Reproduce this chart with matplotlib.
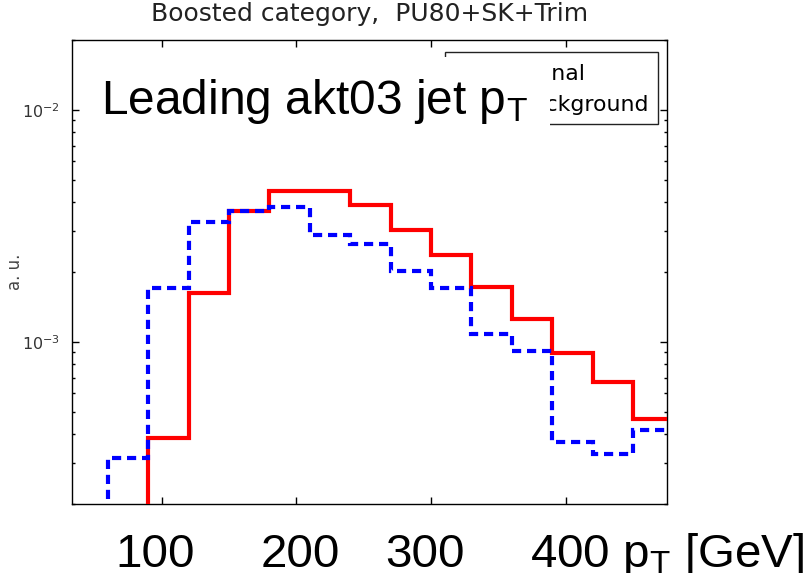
import matplotlib
matplotlib.use("Agg")
import matplotlib.pyplot as plt
from matplotlib.lines import Line2D
from matplotlib.patches import Rectangle
from matplotlib.ticker import LogLocator, NullLocator, NullFormatter
from matplotlib import transforms

# ---------------- data ----------------
bin_edges = [60, 90, 120, 150, 180, 210, 240, 270, 300, 330, 360, 390, 420, 450, 480]
signal = [1.0e-5, 3.85e-4, 1.63e-3, 3.67e-3, 4.49e-3, 4.49e-3, 3.90e-3,
          3.04e-3, 2.37e-3, 1.73e-3, 1.26e-3, 8.96e-4, 6.72e-4, 4.66e-4]
background = [3.16e-4, 1.71e-3, 3.27e-3, 3.67e-3, 3.83e-3, 2.90e-3, 2.65e-3,
              2.02e-3, 1.71e-3, 1.08e-3, 9.15e-4, 3.70e-4, 3.29e-4, 4.17e-4]
series_labels = ["Signal", "Background"]
x_ticks = [100, 200, 300, 400]
x_tick_labels = ["100", "200", "300", "400 p$_\\mathrm{T}$ [GeV]"]
title = "Boosted category,  PU80+SK+Trim"
overlay_title = "Leading akt03 jet p$_\\mathrm{T}$"
y_label = "a. u."

# ---------------- style ----------------
plt.rcParams["font.family"] = ["DejaVu Sans"]
plt.rcParams["mathtext.fontset"] = "custom"
plt.rcParams["mathtext.rm"] = "Liberation Sans"
plt.rcParams["mathtext.it"] = "Liberation Sans:italic"
plt.rcParams["mathtext.bf"] = "Liberation Sans:bold"

W, H = 807, 573
fig = plt.figure(figsize=(W / 100, H / 100), dpi=100)
ax_l, ax_r, ax_t, ax_b = 72.3, 666.7, 40.0, 504.0
ax = fig.add_axes([ax_l / W, 1 - ax_b / H, (ax_r - ax_l) / W, (ax_b - ax_t) / H])

ax.set_yscale("log")
ax.set_xlim(33.6, 475)
ax.set_ylim(2.0e-4, 2.0e-2)

ax.stairs(signal, bin_edges, baseline=1e-7, color="red", lw=3.0, zorder=3)
ax.stairs(background, bin_edges, baseline=1e-7, color="blue", lw=3.0,
          linestyle=(0, (2.2, 1.4)), zorder=4)

# ticks
ax.set_xticks(x_ticks)
ax.set_xticklabels([])
ax.xaxis.set_minor_locator(NullLocator())
ax.yaxis.set_major_locator(LogLocator(base=10))
ax.yaxis.set_minor_locator(LogLocator(base=10, subs=range(2, 10)))
ax.yaxis.set_minor_formatter(NullFormatter())
ax.tick_params(which="both", direction="in", top=True, right=True, width=1.0)
ax.tick_params(which="major", length=5)
ax.tick_params(which="minor", length=2.5)
ax.tick_params(axis="y", which="major", labelsize=11.5, labelcolor="#333333", pad=9)
for s in ax.spines.values():
    s.set_linewidth(1.0)

ax.set_ylabel(y_label, fontsize=12, color="#444444")
ax.yaxis.set_label_coords(-0.082, 0.5)

# title (small, matplotlib-style)
ax.text(0.5, 1 + (ax_t - 21) / (ax_b - ax_t), title, transform=ax.transAxes,
        ha="center", va="baseline", fontsize=18, color="#222222")

# legend
handles = [Line2D([], [], color="red", lw=3.0),
           Line2D([], [], color="blue", lw=3.0, linestyle=(0, (2.2, 1.4)))]
leg = ax.legend(handles, series_labels, loc="upper right",
                bbox_to_anchor=(657.7 / W, 1 - 52 / H), bbox_transform=fig.transFigure,
                borderaxespad=0, fontsize=15.8, frameon=True, fancybox=False,
                edgecolor="#222222", framealpha=1, handlelength=2.1,
                handletextpad=0.8, borderpad=0.4, labelspacing=0.3,
                handleheight=1.3)
leg.get_frame().set_linewidth(1.0)

# white backing for the overlay title
fig.patches.append(Rectangle((86 / W, 1 - 129 / H), (550 - 86) / W, (129 - 57) / H,
                             transform=fig.transFigure, facecolor="white",
                             edgecolor="none", zorder=5))
fig.text(101 / W, 1 - 114.3 / H, overlay_title, fontsize=34.5,
         family=["Liberation Sans"], va="baseline", ha="left", zorder=6)

# big tick labels
label_y = -(567 - ax_b) / (ax_b - ax_t)
xoff = [-7, 4, -6, 0]
for v, lab, off in zip(x_ticks, x_tick_labels, xoff):
    if "GeV" in lab:
        tr = transforms.offset_copy(ax.get_xaxis_transform(), fig=fig, x=-26, y=0, units="points")
        ax.text(v, label_y, lab, transform=tr, ha="left", va="baseline",
                fontsize=34.2, family=["Liberation Sans"], clip_on=False)
    else:
        tr = transforms.offset_copy(ax.get_xaxis_transform(), fig=fig, x=off * 0.72, y=0, units="points")
        ax.text(v, label_y, lab, transform=tr, ha="center", va="baseline",
                fontsize=34.2, family=["Liberation Sans"], clip_on=False)

fig.savefig("out.png", dpi=100)
